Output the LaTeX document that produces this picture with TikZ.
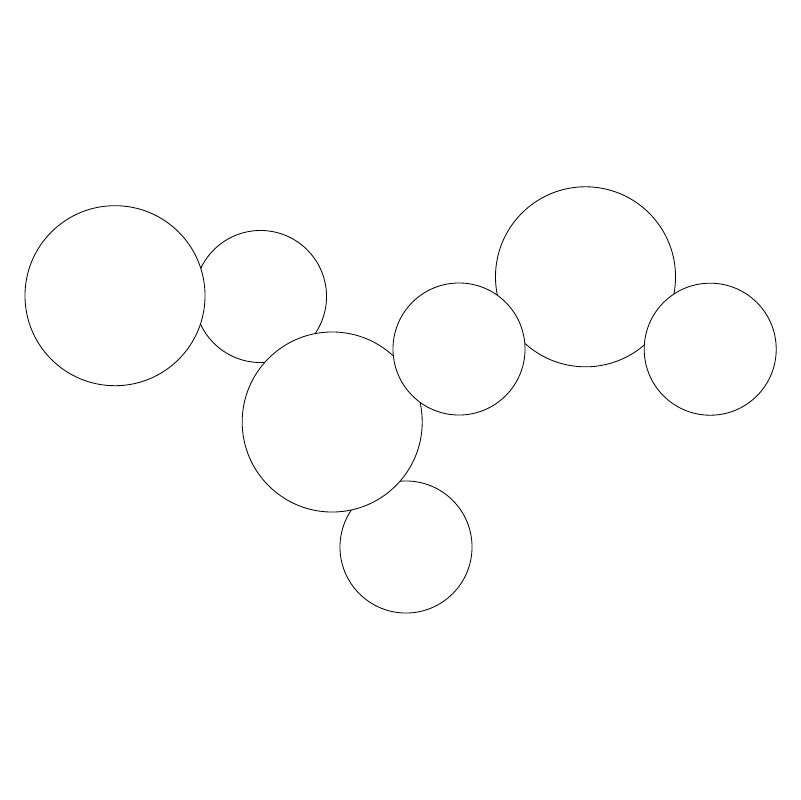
\documentclass[tikz,border=0pt]{standalone}
\usepackage{pgf, tikz}

\begin{document}
\begin{tikzpicture}[x=0.025cm, y=-0.025cm,
  big/.style={circle, draw, fill=white, line width=0.6pt, inner sep=0pt, minimum size=4.5cm},
  small/.style={circle, draw, fill=white, line width=0.6pt, inner sep=0pt, minimum size=3.3cm}]

\useasboundingbox (0,0) rectangle (800,800);

% back row
\node[small] (b) at (260.5, 296.5) {};
\node[small] (d) at (406.0, 547.0) {};
\node[big]   (f) at (585.5, 276.8) {};

% front row
\node[big]   (a) at (115.0, 295.7) {};
\node[big]   (c) at (332.2, 422.0) {};
\node[small] (e) at (459.0, 349.0) {};
\node[small] (g) at (710.2, 349.2) {};

\end{tikzpicture}
\end{document}
